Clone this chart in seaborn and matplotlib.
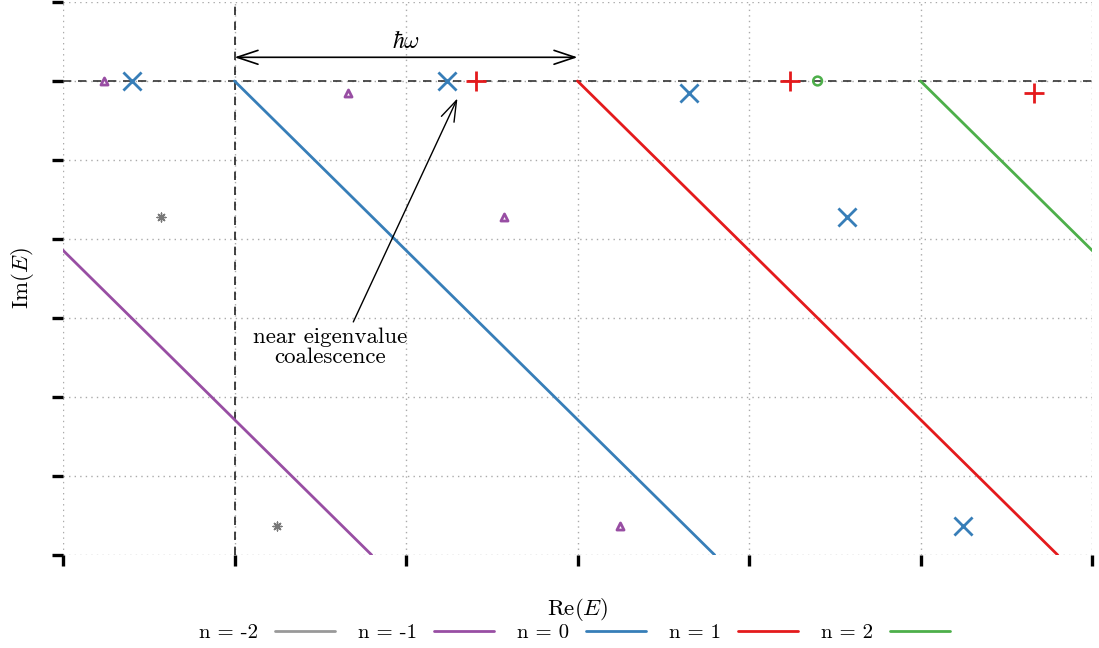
import numpy as np
import pandas as pd
import matplotlib
matplotlib.use("Agg")
import matplotlib.pyplot as plt
import seaborn as sns

# Floquet branches: one straight line per photon number n (endpoints in Re/Im)
branch_labels = ["n = -2", "n = -1", "n = 0", "n = 1", "n = 2"]
branch_colors = ["#999999", "#984ea3", "#377eb8", "#e41a1c", "#4daf4a"]
branch_re_start = [-4.0, -2.0, 0.0, 2.0, 4.0]
branch_re_end = [-1.2, 0.8, 2.8, 4.8, 6.8]
branch_im_start = [0.0, 0.0, 0.0, 0.0, 0.0]
branch_im_end = [-6.0, -6.0, -6.0, -6.0, -6.0]

# Eigenvalues in each sector
ev_m2_re = [-0.43, 0.25]
ev_m2_im = [-1.72, -5.63]
ev_m1_re = [-0.76, 0.66, 1.57, 2.25]
ev_m1_im = [0.0, -0.15, -1.72, -5.63]
ev_0_re = [-0.60, 1.24, 2.65, 3.57, 4.25]
ev_0_im = [0.0, 0.0, -0.15, -1.72, -5.63]
ev_1_re = [1.41, 3.24, 4.66]
ev_1_im = [0.0, 0.0, -0.15]
ev_2_re = [3.40]
ev_2_im = [0.0]

hbar_omega = 2.0
x_ticks = [-1, 0, 1, 2, 3, 4, 5]
y_ticks = [-6, -5, -4, -3, -2, -1, 0, 1]

sns.set_theme(style="white")
plt.rcParams["font.family"] = "serif"
plt.rcParams["font.serif"] = ["cmr10", "DejaVu Serif"]
plt.rcParams["mathtext.fontset"] = "cm"
plt.rcParams["axes.unicode_minus"] = False
plt.rcParams["axes.formatter.use_mathtext"] = True
plt.rcParams["text.color"] = "black"
plt.rcParams["axes.labelcolor"] = "black"

fig = plt.figure(figsize=(10.99, 6.48), dpi=100)
ax = fig.add_axes([63 / 1099, 1 - 555 / 648, (1092 - 63) / 1099, (555 - 2) / 648])

rows = []
for lab, r0, r1, i0, i1 in zip(branch_labels, branch_re_start, branch_re_end,
                               branch_im_start, branch_im_end):
    rows.append({"re": r0, "im": i0, "branch": lab})
    rows.append({"re": r1, "im": i1, "branch": lab})
lines_df = pd.DataFrame(rows)

sns.lineplot(data=lines_df, x="re", y="im", hue="branch", hue_order=branch_labels,
             palette=branch_colors, linewidth=2.0, sort=False, estimator=None,
             ax=ax, legend=True)

# reference lines
ax.axhline(0, color="#333333", linestyle=(0, (5, 4)), linewidth=1.2, zorder=1)
ax.axvline(0, color="#222222", linestyle=(0, (5, 4)), linewidth=1.2, zorder=1)

# eigenvalue markers
sns.scatterplot(x=ev_m2_re, y=ev_m2_im, marker=(8, 2, 0), s=40, color="#777777",
                linewidth=1.0, ax=ax, zorder=5)
sns.scatterplot(x=ev_m1_re, y=ev_m1_im, marker="^", s=26, facecolor="white",
                edgecolor=branch_colors[1], linewidth=2.0, ax=ax, zorder=5)
sns.scatterplot(x=ev_0_re, y=ev_0_im, marker="x", s=170, color=branch_colors[2],
                linewidth=2.0, ax=ax, zorder=5)
sns.scatterplot(x=ev_1_re, y=ev_1_im, marker="+", s=190, color=branch_colors[3],
                linewidth=2.0, ax=ax, zorder=5)
sns.scatterplot(x=ev_2_re, y=ev_2_im, marker="o", s=40, facecolor="none",
                edgecolor=branch_colors[4], linewidth=1.8, ax=ax, zorder=5)

# photon energy arrow
ax.annotate("", xy=(hbar_omega, 0.30), xytext=(0, 0.30),
            arrowprops=dict(arrowstyle="<->,head_length=0.75,head_width=0.25",
                            color="black", lw=1.2, mutation_scale=20,
                            shrinkA=0, shrinkB=0))
ax.text(hbar_omega / 2, 0.49, r"$\hbar\omega$", ha="center", va="center", fontsize=17)

# coalescence annotation
ax.annotate("near eigenvalue\ncoalescence", xy=(1.30, -0.22), xytext=(0.56, -3.37),
            ha="center", va="center", fontsize=16.5, linespacing=1.0,
            arrowprops=dict(arrowstyle="->,head_length=0.75,head_width=0.25",
                            color="black", lw=1.0, mutation_scale=20,
                            shrinkA=2, shrinkB=0, relpos=(0.63, 1.0)))

ax.set_xlim(-1, 5)
ax.set_ylim(-6, 1)
ax.set_xticks(x_ticks)
ax.set_yticks(y_ticks)
ax.set_xticklabels([])
ax.set_yticklabels([])
ax.grid(True, color="#aaaaaa", linestyle=(0, (1, 3)), linewidth=1.0)
ax.tick_params(axis="both", which="major", direction="out", length=8, width=2.4,
               color="black", bottom=True, left=True)
for sp in ax.spines.values():
    sp.set_visible(False)

ax.set_xlabel(r"Re($E$)", fontsize=16.5, labelpad=18)
ax.set_ylabel(r"Im($E$)", fontsize=16.5, labelpad=8)

handles, labels = ax.get_legend_handles_labels()
ax.legend(handles[:5], labels[:5], ncol=5, loc="center",
          bbox_to_anchor=(0.523, 0.023), bbox_transform=fig.transFigure,
          frameon=False, markerfirst=False, handlelength=2.9,
          columnspacing=1.1, handletextpad=0.8, fontsize=15)

fig.savefig("out.png", dpi=100)
